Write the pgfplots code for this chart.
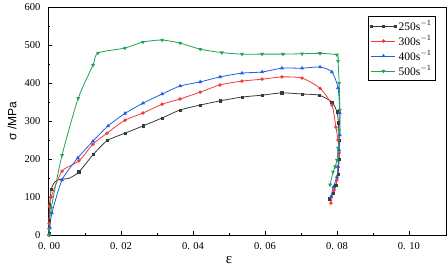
\documentclass[border=0pt]{standalone}
\usepackage{pgfplots}
\pgfplotsset{compat=1.18}
\usepackage{fontspec}
\setmainfont{Liberation Serif}
\newfontfamily\sansf{Liberation Sans}
\definecolor{cgray}{HTML}{3A3A3A}
\definecolor{cred}{HTML}{F43A3A}
\definecolor{cblue}{HTML}{1E60E4}
\definecolor{cgreen}{HTML}{1FA355}
\begin{document}
\begin{tikzpicture}
\useasboundingbox (-48pt,-41pt) rectangle (400pt,235pt);
\begin{axis}[
  scale only axis, width=398pt, height=228pt,
  xmin=-0.0003, xmax=0.1103, ymin=0, ymax=600,
  axis line style={line width=0.9pt},
  tick align=inside, xtick pos=bottom, ytick pos=left,
  major tick length=4pt, minor tick length=2pt,
  every tick/.style={black, line width=0.7pt},
  xtick={0,0.02,0.04,0.06,0.08,0.1},
  xticklabels={0. 00, 0. 02, 0. 04, 0. 06, 0. 08, 0. 10},
  ytick={0,100,200,300,400,500,600},
  yticklabels={0,100,200,300,400,500,600},
  minor x tick num=1, minor y tick num=1,
  ticklabel style={font=\fontsize{10.5}{12}\selectfont},
  xticklabel style={yshift=-4pt},
  yticklabel style={xshift=-4pt},
  xlabel={ε}, ylabel={\sansf σ /MPa},
  xlabel style={at={(axis description cs:0.455,0)}, anchor=center, yshift=-25pt, font=\fontsize{15}{17}\selectfont},
  ylabel style={at={(axis description cs:-0.09,0.5)}, anchor=center, font=\fontsize{12}{14}\selectfont},
  legend style={at={(axis description cs:0.804,0.96)}, anchor=north west, draw=black, line width=0.9pt,
    font=\fontsize{11.5}{13}\selectfont, row sep=0pt, inner sep=2pt, cells={anchor=west}},
  legend image code/.code={\draw[mark repeat=2,mark phase=2,#1] plot coordinates {(0pt,0pt)(12pt,0pt)(24pt,0pt)};},
  every axis plot/.append style={line width=0.8pt, smooth, tension=0.4, mark size=1.3pt},
]
\addplot[cgray, mark=square*, mark size=1.05pt, mark indices={1,2,3,4,8,9,...,30}] coordinates {
(0.0000,5) (0.0000,38) (0.0002,80) (0.0006,120) (0.0016,140) (0.0032,147) (0.0055,149)
(0.0083,166) (0.0122,211) (0.0161,248) (0.0211,268) (0.0261,287) (0.0314,308) (0.0364,329)
(0.0420,342) (0.0475,353) (0.0536,363) (0.0592,368) (0.0647,374) (0.0703,371) (0.0750,368)
(0.0786,350) (0.0800,324) (0.0804,295) (0.0806,250) (0.0806,200) (0.0803,160) (0.0797,130)
(0.0789,110) (0.0780,95)};
\addlegendentry{250s$^{-1}$}
\addplot[cred, mark=*] coordinates {
(0.0000,0) (0.0000,30) (0.0001,75) (0.0006,100) (0.0036,168) (0.0083,195) (0.0122,239)
(0.0161,268) (0.0211,302) (0.0261,321) (0.0314,344) (0.0364,358) (0.0420,376) (0.0475,395)
(0.0536,405) (0.0592,410) (0.0647,416) (0.0703,413) (0.0753,386) (0.0786,342) (0.0797,284)
(0.0803,250) (0.0806,216) (0.0803,179) (0.0800,145) (0.0792,118) (0.0783,84)};
\addlegendentry{300s$^{-1}$}
\addplot[cblue, mark=triangle*, mark size=1.5pt] coordinates {
(0.0000,0) (0.0002,20) (0.0008,58) (0.0036,145) (0.0080,203) (0.0122,247) (0.0164,287)
(0.0211,320) (0.0261,347) (0.0314,371) (0.0364,392) (0.0420,403) (0.0475,416) (0.0536,426)
(0.0592,429) (0.0647,439) (0.0703,439) (0.0753,442) (0.0786,429) (0.0803,387) (0.0808,321)
(0.0808,263) (0.0806,224) (0.0803,179) (0.0800,153) (0.0790,126) (0.0783,100)};
\addlegendentry{400s$^{-1}$}
\addplot[cgreen, mark=triangle*, mark size=1.5pt, mark options={rotate=180}] coordinates {
(0.0000,0) (0.0000,15) (0.0006,71) (0.0036,210) (0.0081,360) (0.0122,447) (0.0136,479)
(0.0211,492) (0.0261,508) (0.0314,513) (0.0364,505) (0.0420,489) (0.0480,480) (0.0536,476)
(0.0592,476) (0.0650,476) (0.0703,477) (0.0753,478) (0.0800,474) (0.0803,458) (0.0806,400)
(0.0808,329) (0.0806,276) (0.0803,229) (0.0800,197) (0.0795,180) (0.0789,166) (0.0781,132)};
\addlegendentry{500s$^{-1}$}
\end{axis}
\end{tikzpicture}
\end{document}
